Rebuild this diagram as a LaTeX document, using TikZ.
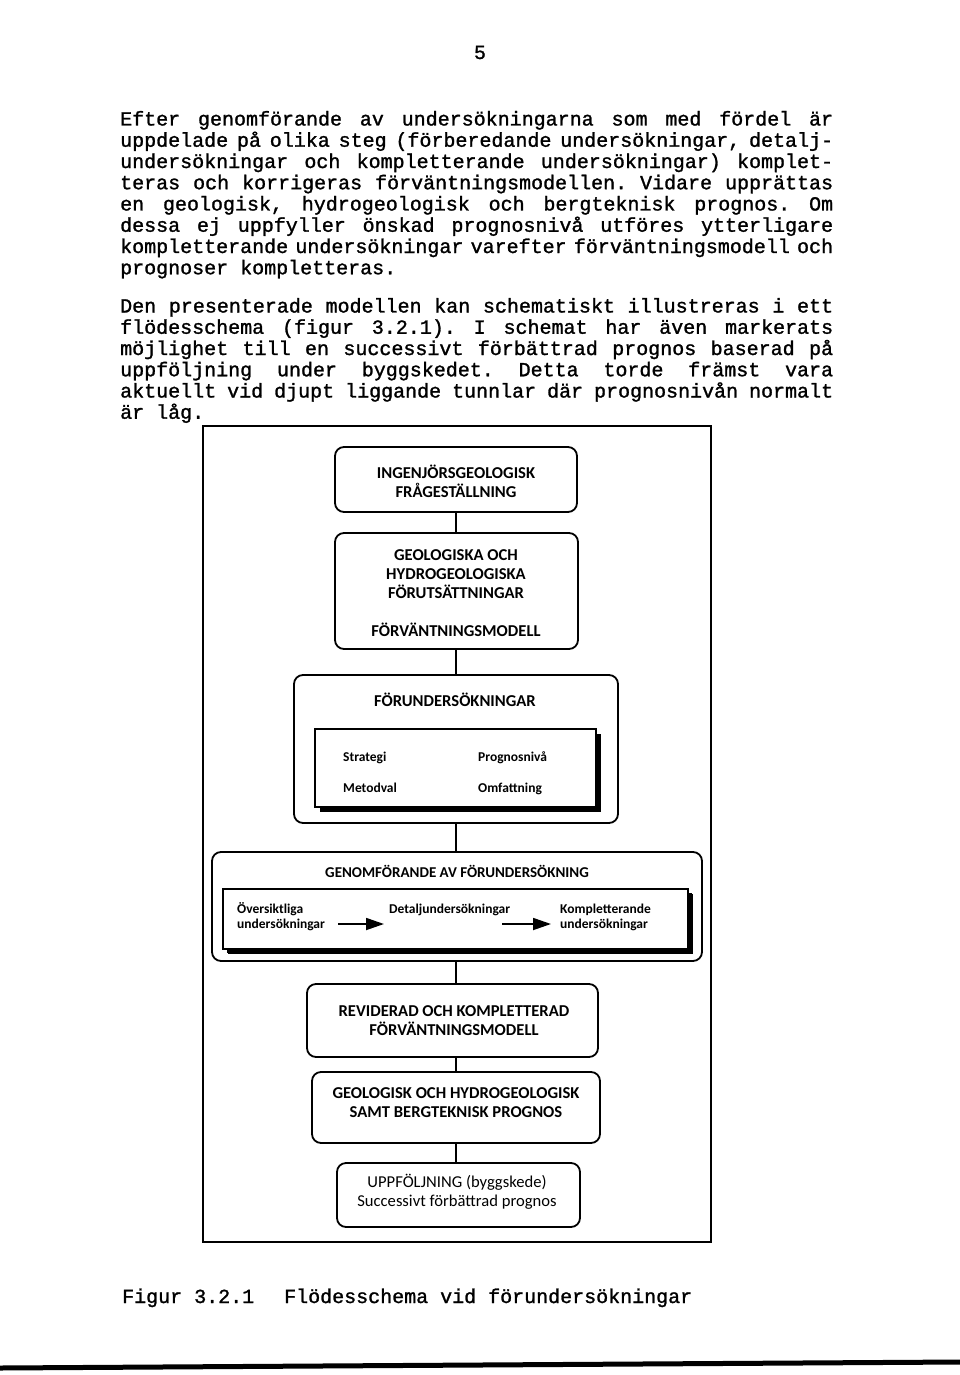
\documentclass[tikz,border=0pt]{standalone}
\usepackage{fontspec}
\newfontfamily\mono[FakeBold=1.3]{Liberation Mono}
\newfontfamily\boxfont{Carlito}
\usetikzlibrary{arrows.meta,shadows}
\newcommand{\jl}[1]{\makebox[713pt][s]{\spaceskip=0.6em plus 1fil minus 0.3em\relax #1}}
\frenchspacing
\begin{document}
\begin{tikzpicture}[x=1pt,y=-1pt,
 body/.style={font=\mono\fontsize{20}{21}\selectfont, anchor=base west, inner sep=0pt},
 capt/.style={font=\boxfont\bfseries\fontsize{16.6}{19}\selectfont, anchor=base, inner sep=0pt},
 smalltxt/.style={font=\boxfont\bfseries\fontsize{13.5}{15}\selectfont, anchor=base west, inner sep=0pt},
 rbox/.style={draw, line width=1.8pt, rounded corners=9pt, inner sep=0pt},
 sbox/.style={draw, line width=1.4pt, fill=white, inner sep=0pt, drop shadow={shadow xshift=5pt, shadow yshift=-5pt, fill=black, opacity=1}},
 conn/.style={line width=2.6pt},
 arr/.style={line width=1.8pt, -{Triangle[length=18pt,width=12pt]}}
]
\useasboundingbox (0,0) rectangle (960,1375);
\fill[white] (0,0) rectangle (960,1375);

% page number
\node[body, anchor=base] (pnum) at (480,59) {5};

% paragraph 1
\node[body] (p1a) at (120,125.5) {\jl{Efter genomförande av undersökningarna som med fördel är}};
\node[body] (p1b) at (120,146.75) {\jl{uppdelade på olika steg (förberedande undersökningar, detalj-}};
\node[body] (p1c) at (120,168) {\jl{undersökningar och kompletterande undersökningar) komplet-}};
\node[body] (p1d) at (120,189.25) {\jl{teras och korrigeras förväntningsmodellen. Vidare upprättas}};
\node[body] (p1e) at (120,210.5) {\jl{en geologisk, hydrogeologisk och bergteknisk prognos. Om}};
\node[body] (p1f) at (120,231.75) {\jl{dessa ej uppfyller önskad prognosnivå utföres ytterligare}};
\node[body] (p1g) at (120,253) {\jl{kompletterande undersökningar varefter förväntningsmodell och}};
\node[body] (p1h) at (120,274.25) {prognoser kompletteras.};

% paragraph 2
\node[body] (p2a) at (120,312.5) {\jl{Den presenterade modellen kan schematiskt illustreras i ett}};
\node[body] (p2b) at (120,333.75) {\jl{flödesschema (figur 3.2.1). I schemat har även markerats}};
\node[body] (p2c) at (120,355) {\jl{möjlighet till en successivt förbättrad prognos baserad på}};
\node[body] (p2d) at (120,376.25) {\jl{uppföljning under byggskedet. Detta torde främst vara}};
\node[body] (p2e) at (120,397.5) {\jl{aktuellt vid djupt liggande tunnlar där prognosnivån normalt}};
\node[body] (p2f) at (120,418.75) {är låg.};

% figure frame
\node[draw, line width=1.8pt, minimum width=508, minimum height=816, inner sep=0pt] (frame) at (457,834) {};

% box 1
\node[rbox, minimum width=242, minimum height=65] (b1) at (456,479.5) {};
\node[capt] (b1a) at (456,478) {INGENJÖRSGEOLOGISK};
\node[capt] (b1b) at (456,497) {FRÅGESTÄLLNING};

% box 2
\node[rbox, minimum width=243, minimum height=116] (b2) at (456.5,591) {};
\node[capt] (b2a) at (456,560) {GEOLOGISKA OCH};
\node[capt] (b2b) at (456,579) {HYDROGEOLOGISKA};
\node[capt] (b2c) at (456,598) {FÖRUTSÄTTNINGAR};
\node[capt] (b2d) at (456,636) {FÖRVÄNTNINGSMODELL};

% box 3
\node[rbox, minimum width=324, minimum height=148] (b3) at (456,749) {};
\node[capt] (b3t) at (455,706) {FÖRUNDERSÖKNINGAR};
\node[sbox, minimum width=281, minimum height=78] (b3i) at (455.5,768) {};
\node[smalltxt] (s1) at (343,761) {Strategi};
\node[smalltxt] (s2) at (343,792) {Metodval};
\node[smalltxt] (s3) at (478,761) {Prognosnivå};
\node[smalltxt] (s4) at (478,792) {Omfattning};

% box 4
\node[rbox, minimum width=490, minimum height=109] (b4) at (457,906.5) {};
\node[capt, font=\boxfont\bfseries\fontsize{15}{18}\selectfont] (b4t) at (457,877) {GENOMFÖRANDE AV FÖRUNDERSÖKNING};
\node[sbox, minimum width=465, minimum height=60, drop shadow={shadow xshift=4pt, shadow yshift=-4pt, fill=black, opacity=1}] (b4i) at (455.5,919) {};
\node[smalltxt] (o1) at (237,913) {Översiktliga};
\node[smalltxt] (o2) at (237,928) {undersökningar};
\node[smalltxt] (d1) at (389,913) {Detaljundersökningar};
\node[smalltxt] (k1) at (560,913) {Kompletterande};
\node[smalltxt] (k2) at (560,928) {undersökningar};
\coordinate (a1s) at (338,924);
\coordinate (a1e) at (384,924);
\coordinate (a2s) at (502,924);
\coordinate (a2e) at (551,924);
\draw[arr] (a1s) -- (a1e);
\draw[arr] (a2s) -- (a2e);

% box 5
\node[rbox, minimum width=291, minimum height=73] (b5) at (452.5,1020.5) {};
\node[capt] (b5a) at (454,1016) {REVIDERAD OCH KOMPLETTERAD};
\node[capt] (b5b) at (454,1035) {FÖRVÄNTNINGSMODELL};

% box 6
\node[rbox, minimum width=288, minimum height=71] (b6) at (456,1107.5) {};
\node[capt] (b6a) at (456,1098) {GEOLOGISK OCH HYDROGEOLOGISK};
\node[capt] (b6b) at (456,1117) {SAMT BERGTEKNISK PROGNOS};

% box 7
\node[rbox, minimum width=243, minimum height=64] (b7) at (458.5,1195) {};
\node[capt, font=\boxfont\fontsize{16.6}{19}\selectfont] (b7a) at (457,1187) {UPPFÖLJNING (byggskede)};
\node[capt, font=\boxfont\fontsize{16.6}{19}\selectfont] (b7b) at (457,1206) {Successivt förbättrad prognos};

% connectors
\draw[conn] (b1.south) -- (b1.south |- b2.north);
\draw[conn] (b1.south |- b2.south) -- (b1.south |- b3.north);
\draw[conn] (b1.south |- b3.south) -- (b1.south |- b4.north);
\draw[conn] (b1.south |- b4.south) -- (b1.south |- b5.north);
\draw[conn] (b1.south |- b5.south) -- (b1.south |- b6.north);
\draw[conn] (b1.south |- b6.south) -- (b1.south |- b7.north);

% caption
\node[body] (cap) at (122,1303) {Figur 3.2.1\hspace{30pt}Flödesschema vid förundersökningar};

% bottom rule
\coordinate (rl) at (0,1368);
\coordinate (rr) at (960,1362);
\draw[line width=5pt] (rl) -- (rr);
\end{tikzpicture}
\end{document}
